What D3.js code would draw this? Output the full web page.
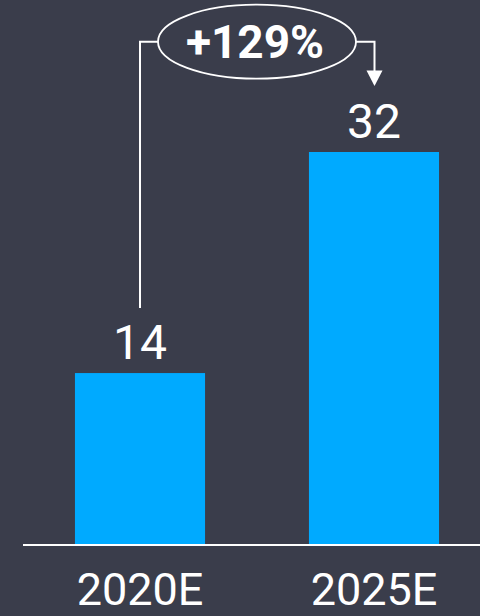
<!DOCTYPE html>
<html>
<head>
<meta charset="utf-8">
<script src="https://cdn.jsdelivr.net/npm/d3@7"></script>
<style>
  html, body { margin: 0; padding: 0; background: #3a3d4b; }
  svg { display: block; }
</style>
</head>
<body>
<svg id="chart" width="480" height="616"></svg>
<script>
// Market size estimates by year
const categories = ["2020E", "2025E"];
const values = [14, 32];
const growthLabel = "+129%";

const W = 480, H = 616;
const bg = "#3a3d4b", barColor = "#00aaff", ink = "#ffffff";
const font = "Roboto, 'Liberation Sans', sans-serif";

const svg = d3.select("#chart");
svg.append("rect").attr("width", W).attr("height", H).attr("fill", bg);

const x = d3.scaleBand()
  .domain(categories)
  .range([23, 491])
  .paddingInner(0.444)
  .paddingOuter(0.222);

const y = d3.scaleLinear().domain([0, 32]).range([545, 152]);

// bars
svg.selectAll("rect.bar")
  .data(values)
  .join("rect")
  .attr("class", "bar")
  .attr("x", (d, i) => x(categories[i]))
  .attr("y", d => y(d))
  .attr("width", x.bandwidth())
  .attr("height", d => y(0) - y(d))
  .attr("fill", barColor);

// baseline
svg.append("line")
  .attr("x1", 23).attr("x2", W)
  .attr("y1", y(0)).attr("y2", y(0))
  .attr("stroke", ink).attr("stroke-width", 2);

// value labels
svg.selectAll("text.val")
  .data(values)
  .join("text")
  .attr("class", "val")
  .attr("x", (d, i) => x(categories[i]) + x.bandwidth() / 2)
  .attr("y", d => y(d) - 14.5)
  .attr("text-anchor", "middle")
  .attr("font-family", font)
  .attr("font-size", 48)
  .attr("fill", ink)
  .text(d => d);

// category labels
svg.selectAll("text.cat")
  .data(categories)
  .join("text")
  .attr("class", "cat")
  .attr("x", d => x(d) + x.bandwidth() / 2)
  .attr("y", 605)
  .attr("text-anchor", "middle")
  .attr("font-family", font)
  .attr("font-size", 45)
  .attr("fill", ink)
  .text(d => d);

// growth callout: connector from first bar, ellipse badge, arrow into second bar
const cx0 = x(categories[0]) + x.bandwidth() / 2;
const cx1 = x(categories[1]) + x.bandwidth() / 2;
const ey = 41.7, ecx = 257, erx = 99, ery = 37;

svg.append("path")
  .attr("d", `M${cx0},${y(values[0]) - 65} V${ey} H${ecx - erx}`)
  .attr("fill", "none").attr("stroke", ink).attr("stroke-width", 2);

svg.append("ellipse")
  .attr("cx", ecx).attr("cy", ey).attr("rx", erx).attr("ry", ery)
  .attr("fill", "none").attr("stroke", ink).attr("stroke-width", 1.8);

const tipY = y(values[1]) - 66;
svg.append("path")
  .attr("d", `M${ecx + erx},${ey} H${cx1 + 0.5} V${tipY - 14}`)
  .attr("fill", "none").attr("stroke", ink).attr("stroke-width", 2);

svg.append("path")
  .attr("d", `M${cx1 - 7.5},${tipY - 15.5} L${cx1 + 8.5},${tipY - 15.5} L${cx1 + 0.5},${tipY} Z`)
  .attr("fill", ink);

svg.append("text")
  .attr("x", ecx - 2)
  .attr("y", 58)
  .attr("text-anchor", "middle")
  .attr("font-family", font)
  .attr("font-weight", 700)
  .attr("font-size", 46)
  .attr("fill", ink)
  .text(growthLabel);
</script>
</body>
</html>
